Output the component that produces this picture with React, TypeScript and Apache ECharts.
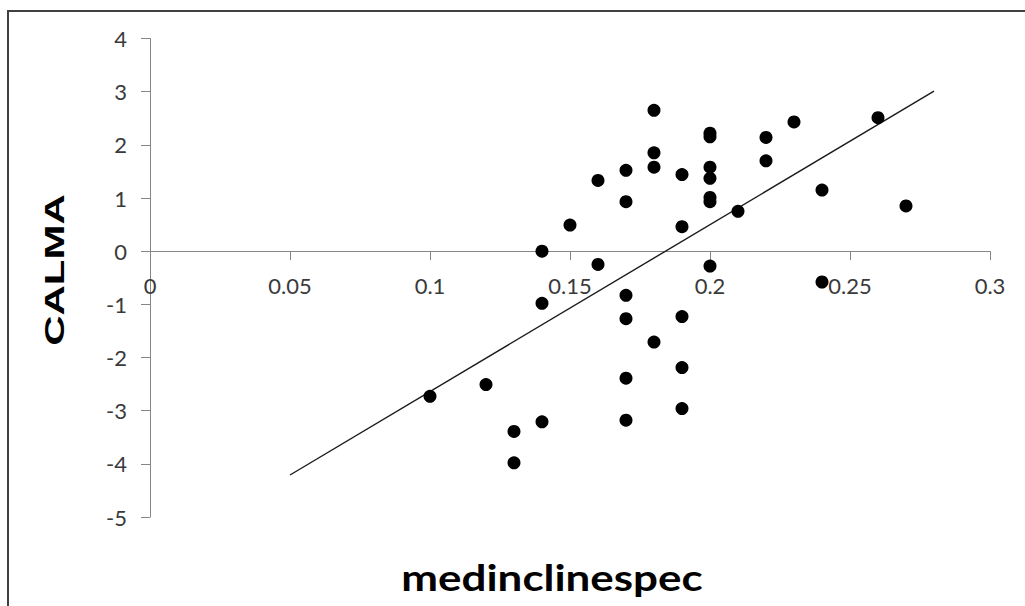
import React, { useEffect, useRef } from "react";
import * as echarts from "echarts";

const xValues = [0.10, 0.12, 0.13, 0.13, 0.14, 0.14, 0.14, 0.15, 0.16, 0.16, 0.17, 0.17, 0.17, 0.17, 0.17, 0.17, 0.18, 0.18, 0.18, 0.18, 0.19, 0.19, 0.19, 0.19, 0.19, 0.20, 0.20, 0.20, 0.20, 0.20, 0.20, 0.20, 0.21, 0.22, 0.22, 0.23, 0.24, 0.24, 0.26, 0.27];
const yValues = [-2.73, -2.51, -3.39, -3.98, 0.0, -0.98, -3.21, 0.49, 1.33, -0.25, 1.52, 0.93, -0.83, -1.27, -2.39, -3.18, 2.65, 1.85, 1.58, -1.71, 1.44, 0.46, -1.23, -2.19, -2.96, 2.22, 2.15, 1.58, 1.37, 1.01, 0.93, -0.28, 0.75, 2.14, 1.70, 2.43, 1.15, -0.58, 2.51, 0.85];
const trendX = [0.05, 0.28];
const trendY = [-4.21, 3.01];
const xTitle = "medinclinespec";
const yTitle = "CALMA";
const yMin = -5;
const yMax = 4;

export default function App() {
  const ref = useRef<HTMLDivElement>(null);
  useEffect(() => {
    if (!ref.current) return;
    const chart = echarts.init(ref.current, null, { renderer: "svg" });
    const axisGray = "#868686";
    const labelColor = "#3a3a3a";
    const font = "Lato";
    const H = 606;
    const gridTop = 38.5;
    const gridBottom = 89;
    const plotH = H - gridTop - gridBottom;
    // move the x axis (line, ticks, labels) up from the bottom to the y = 0 level
    const zeroOffset = -(plotH * (0 - yMin)) / (yMax - yMin);
    chart.setOption({
      animation: false,
      backgroundColor: "#ffffff",
      grid: { left: 150, right: 35, top: gridTop, bottom: gridBottom, containLabel: false },
      xAxis: {
        type: "value",
        min: 0,
        max: 0.3,
        interval: 0.05,
        offset: zeroOffset,
        axisLine: { onZero: false, lineStyle: { color: axisGray, width: 1 } },
        axisTick: { show: true, inside: false, length: 9, lineStyle: { color: axisGray } },
        axisLabel: {
          margin: 23,
          color: labelColor,
          fontFamily: font,
          fontSize: 22,
          formatter: (v: number) => String(+v.toFixed(2)),
          showMinLabel: true,
          showMaxLabel: true,
        },
        splitLine: { show: false },
      },
      yAxis: {
        type: "value",
        min: yMin,
        max: yMax,
        interval: 1,
        axisLine: { show: true, onZero: false, lineStyle: { color: axisGray, width: 1 } },
        axisTick: { show: true, inside: false, length: 9, lineStyle: { color: axisGray } },
        axisLabel: { margin: 23, color: labelColor, fontFamily: font, fontSize: 22 },
        splitLine: { show: false },
      },
      series: [
        {
          type: "line",
          data: trendX.map((x, i) => [x, trendY[i]]),
          showSymbol: false,
          symbol: "none",
          lineStyle: { color: "#1a1a1a", width: 1.4 },
          z: 2,
          silent: true,
        },
        {
          type: "scatter",
          data: xValues.map((x, i) => [x, yValues[i]]),
          symbol: "circle",
          symbolSize: 13,
          itemStyle: { color: "#000000", opacity: 1 },
          z: 3,
        },
      ],
      graphic: [
        {
          type: "rect",
          shape: { x: 8, y: 11, width: 1100, height: 700 },
          style: { fill: "none", stroke: "#404040", lineWidth: 2 },
          silent: true,
        },
        {
          type: "text",
          x: 55,
          y: 270,
          rotation: Math.PI / 2,
          scaleX: 1.5,
          style: {
            text: yTitle,
            fill: "#000000",
            font: "bold 28px 'Liberation Sans', Arial, sans-serif",
            align: "center",
            verticalAlign: "middle",
          },
        },
        {
          type: "text",
          x: 552,
          y: 577,
          scaleX: 1.22,
          style: {
            text: xTitle,
            fill: "#000000",
            font: "bold 36px Lato, sans-serif",
            align: "center",
            verticalAlign: "middle",
          },
        },
      ],
    });
    return () => chart.dispose();
  }, []);
  return (
    <div
      ref={ref}
      style={{ position: "fixed", left: 0, top: 0, width: 1025, height: 606, background: "#fff" }}
    />
  );
}
